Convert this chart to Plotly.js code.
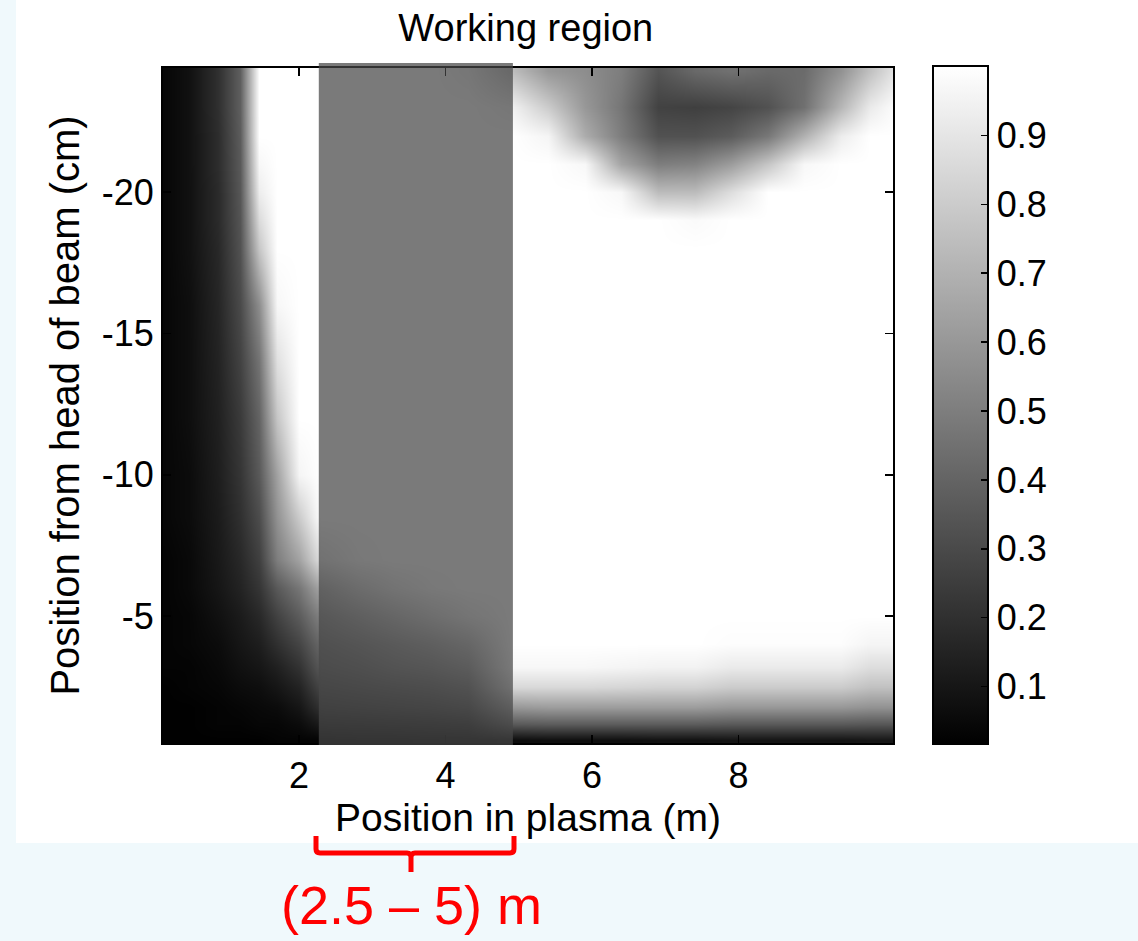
<!DOCTYPE html>
<html><head><meta charset="utf-8">
<script src="https://cdn.plot.ly/plotly-3.0.1.min.js"></script>
<style>html,body{margin:0;padding:0;background:#f0f9fc;overflow:hidden;} #chart{width:1138px;height:941px;}</style>
</head><body><div id="chart"></div>
<script>
// Position in plasma (m) — grid columns
const xPos = [0.15, 0.5, 0.9, 1.2, 1.45, 1.7, 2.0, 2.3, 2.8, 3.3, 3.8, 4.3, 4.9, 5.4, 5.9, 6.4, 6.9, 7.4, 7.9, 8.4, 8.9, 9.4, 9.8, 10.1];
// Position from head of beam (cm) — grid rows
const yPos = [-24.3, -23, -22, -21, -20, -19, -18, -16, -14, -12, -10, -8.5, -7, -6, -5, -4, -3.2, -2.5, -1.8, -1.2, -0.6];

// one column of values per x position
const c0  = [0.04,0.04,0.04,0.04,0.04,0.04,0.04,0.04,0.04,0.04,0.04,0.04,0.03,0.03,0.03,0.03,0.03,0.02,0.02,0.02,0.02];
const c1  = [0.08,0.08,0.08,0.08,0.08,0.08,0.08,0.07,0.07,0.07,0.06,0.06,0.05,0.05,0.04,0.04,0.03,0.03,0.02,0.02,0.02];
const c2  = [0.20,0.20,0.19,0.19,0.18,0.18,0.17,0.16,0.15,0.14,0.13,0.12,0.11,0.10,0.08,0.06,0.05,0.04,0.03,0.03,0.02];
const c3  = [0.38,0.38,0.37,0.36,0.35,0.34,0.33,0.30,0.27,0.24,0.22,0.20,0.17,0.15,0.12,0.10,0.08,0.06,0.04,0.03,0.02];
const c4  = [1.00,1.00,1.00,0.97,0.93,0.86,0.78,0.56,0.46,0.40,0.36,0.31,0.26,0.22,0.17,0.13,0.10,0.07,0.05,0.04,0.02];
const c5  = [1.00,1.00,1.00,1.00,1.00,1.00,1.00,0.97,0.88,0.78,0.64,0.58,0.50,0.36,0.27,0.20,0.14,0.10,0.06,0.04,0.03];
const c6  = [1.00,1.00,1.00,1.00,1.00,1.00,1.00,1.00,1.00,1.00,0.96,0.80,0.64,0.47,0.37,0.28,0.21,0.15,0.10,0.06,0.03];
const c7  = [1.00,1.00,1.00,1.00,1.00,1.00,1.00,1.00,1.00,1.00,1.00,1.00,0.88,0.66,0.52,0.42,0.36,0.29,0.21,0.12,0.03];
const c8  = [1.00,1.00,1.00,1.00,1.00,1.00,1.00,1.00,1.00,1.00,1.00,1.00,0.97,0.80,0.62,0.48,0.40,0.32,0.23,0.13,0.04];
const c9  = [1.00,1.00,1.00,1.00,1.00,1.00,1.00,1.00,1.00,1.00,1.00,1.00,1.00,0.90,0.72,0.55,0.46,0.35,0.25,0.14,0.04];
const c10 = [1.00,1.00,1.00,1.00,1.00,1.00,1.00,1.00,1.00,1.00,1.00,1.00,1.00,0.97,0.82,0.62,0.50,0.38,0.27,0.15,0.05];
const c11 = [0.95,1.00,1.00,1.00,1.00,1.00,1.00,1.00,1.00,1.00,1.00,1.00,1.00,1.00,0.92,0.72,0.58,0.44,0.31,0.17,0.05];
const c12 = [0.75,0.95,1.00,1.00,1.00,1.00,1.00,1.00,1.00,1.00,1.00,1.00,1.00,1.00,1.00,1.00,0.97,0.85,0.60,0.36,0.06];
const c13 = [0.60,0.80,0.96,1.00,1.00,1.00,1.00,1.00,1.00,1.00,1.00,1.00,1.00,1.00,1.00,1.00,0.97,0.85,0.62,0.37,0.07];
const c14 = [0.56,0.60,0.68,0.97,1.00,1.00,1.00,1.00,1.00,1.00,1.00,1.00,1.00,1.00,1.00,1.00,0.97,0.85,0.62,0.37,0.07];
const c15 = [0.50,0.47,0.50,0.65,0.97,1.00,1.00,1.00,1.00,1.00,1.00,1.00,1.00,1.00,1.00,1.00,0.96,0.84,0.62,0.37,0.07];
const c16 = [0.34,0.27,0.33,0.50,0.74,1.00,1.00,1.00,1.00,1.00,1.00,1.00,1.00,1.00,1.00,1.00,0.95,0.83,0.62,0.37,0.08];
const c17 = [0.42,0.26,0.33,0.52,0.74,0.98,1.00,1.00,1.00,1.00,1.00,1.00,1.00,1.00,1.00,1.00,0.95,0.83,0.62,0.37,0.08];
const c18 = [0.45,0.28,0.37,0.62,0.87,1.00,1.00,1.00,1.00,1.00,1.00,1.00,1.00,1.00,1.00,0.99,0.92,0.80,0.60,0.36,0.09];
const c19 = [0.42,0.33,0.48,0.78,1.00,1.00,1.00,1.00,1.00,1.00,1.00,1.00,1.00,1.00,1.00,0.99,0.92,0.80,0.60,0.36,0.09];
const c20 = [0.43,0.45,0.70,0.97,1.00,1.00,1.00,1.00,1.00,1.00,1.00,1.00,1.00,1.00,1.00,0.99,0.92,0.80,0.60,0.36,0.09];
const c21 = [0.58,0.72,0.93,1.00,1.00,1.00,1.00,1.00,1.00,1.00,1.00,1.00,1.00,1.00,1.00,0.99,0.92,0.80,0.60,0.36,0.09];
const c22 = [0.76,0.92,1.00,1.00,1.00,1.00,1.00,1.00,1.00,1.00,1.00,1.00,1.00,1.00,1.00,0.96,0.87,0.76,0.58,0.35,0.10];
const c23 = [0.88,0.98,1.00,1.00,1.00,1.00,1.00,1.00,1.00,1.00,1.00,1.00,1.00,1.00,1.00,0.96,0.87,0.76,0.58,0.35,0.10];
const columns = [c0,c1,c2,c3,c4,c5,c6,c7,c8,c9,c10,c11,c12,c13,c14,c15,c16,c17,c18,c19,c20,c21,c22,c23];

const xTickVals = [2, 4, 6, 8];
const yTickVals = [-20, -15, -10, -5];
const yTickText = ['-20', '-15', '-10', '-5'];
const cbTickVals = [0.1, 0.2, 0.3, 0.4, 0.5, 0.6, 0.7, 0.8, 0.9];
const zRange = [0.016, 1.0];
const xRange = [0.143, 10.109];
const yRange = [-0.51, -24.39];
const workingRegion = [2.27, 4.92];
const regionLabel = '(2.5 \u2013 5) m';

const W = 1138, H = 941;
const M = {l: 163, r: 245, t: 68, b: 198};
const pw = W - M.l - M.r, ph = H - M.t - M.b;
const px = v => (v - M.l) / pw;        // pixel x -> paper x
const py = v => (H - M.b - v) / ph;    // pixel y -> paper y
const FONT = 'Liberation Sans, Arial, Helvetica, sans-serif';

const cbLen = 1.004;
const cbX0 = 933, cbThick = 55;
const cbBottom = M.t + ph * (0.5 + cbLen / 2);
const cbH = cbLen * ph;

const shapes = [];
// white figure background
shapes.push({type: 'rect', xref: 'paper', yref: 'paper', layer: 'below',
  x0: px(16), x1: px(1140), y0: py(0), y1: py(843), fillcolor: '#ffffff', line: {width: 0}});
// working region overlay
shapes.push({type: 'rect', xref: 'x', yref: 'paper', layer: 'above',
  x0: workingRegion[0], x1: workingRegion[1], y0: py(745), y1: py(63),
  fillcolor: 'rgb(71,71,71)', opacity: 0.72, line: {width: 0}});
// left-side ticks of the colorbar
cbTickVals.forEach(v => {
  const yy = cbBottom - (v - zRange[0]) / (zRange[1] - zRange[0]) * cbH;
  shapes.push({type: 'line', xref: 'paper', yref: 'paper', layer: 'above',
    x0: px(cbX0), x1: px(cbX0 + 8), y0: py(yy), y1: py(yy), line: {color: '#000', width: 1.5}});
});
// red bracket under the x axis
const bl = 316, br = 514, bc = 411, bt = 836, bb = 853, tip = 872, rr = 4;
const P = (x, y) => px(x).toFixed(5) + ',' + py(y).toFixed(5);
const bracketPath =
  'M' + P(bl, bt) + ' L' + P(bl, bb - rr) + ' Q' + P(bl, bb) + ' ' + P(bl + rr, bb) +
  ' L' + P(bc - rr, bb) + ' Q' + P(bc, bb) + ' ' + P(bc, bb + rr) + ' L' + P(bc, tip) +
  ' M' + P(bc, bb + rr) + ' Q' + P(bc, bb) + ' ' + P(bc + rr, bb) +
  ' L' + P(br - rr, bb) + ' Q' + P(br, bb) + ' ' + P(br, bb - rr) + ' L' + P(br, bt);
shapes.push({type: 'path', xref: 'paper', yref: 'paper', layer: 'above', path: bracketPath,
  line: {color: '#ff0000', width: 5}});

const trace = {
  type: 'heatmap',
  x: xPos, y: yPos, z: columns, transpose: true,
  zmin: zRange[0], zmax: zRange[1],
  zsmooth: 'best',
  colorscale: [[0, 'rgb(0,0,0)'], [1, 'rgb(255,255,255)']],
  hoverinfo: 'skip',
  colorbar: {
    x: px(cbX0), xanchor: 'left', xref: 'paper',
    y: 0.5, yanchor: 'middle', len: cbLen, lenmode: 'fraction',
    thickness: cbThick, thicknessmode: 'pixels',
    xpad: 0, ypad: 0,
    outlinewidth: 2, outlinecolor: '#000',
    tickmode: 'array', tickvals: cbTickVals, ticktext: cbTickVals.map(v => v.toFixed(1)),
    ticks: 'inside', ticklen: 8, tickwidth: 1.5, tickcolor: '#000',
    tickfont: {family: FONT, size: 36, color: '#000'}
  }
};

const layout = {
  width: W, height: H,
  margin: M,
  paper_bgcolor: '#f0f9fc',
  plot_bgcolor: '#ffffff',
  showlegend: false,
  title: {text: 'Working region', x: 0.497, xref: 'paper', xanchor: 'center',
    y: 1 - 28 / H, yref: 'container', yanchor: 'middle',
    font: {family: FONT, size: 38, color: '#000'}},
  xaxis: {
    range: xRange, tickmode: 'array', tickvals: xTickVals,
    ticks: 'inside', ticklen: 8, tickwidth: 1.5, tickcolor: '#000',
    showline: true, linecolor: '#000', linewidth: 2, mirror: 'ticks',
    showgrid: false, zeroline: false,
    tickfont: {family: FONT, size: 36, color: '#000'},
    title: {text: 'Position in plasma (m)', standoff: 8, font: {family: FONT, size: 39, color: '#000'}}
  },
  yaxis: {
    range: yRange, tickmode: 'array', tickvals: yTickVals, ticktext: yTickText,
    ticks: 'inside', ticklen: 8, tickwidth: 1.5, tickcolor: '#000',
    showline: true, linecolor: '#000', linewidth: 2, mirror: 'ticks',
    showgrid: false, zeroline: false,
    tickfont: {family: FONT, size: 36, color: '#000'},
    title: {text: 'Position from head of beam (cm)', standoff: 10, font: {family: FONT, size: 40, color: '#000'}}
  },
  shapes: shapes,
  annotations: [{
    text: regionLabel, xref: 'paper', yref: 'paper', x: px(bc), y: py(905),
    xanchor: 'center', yanchor: 'middle', showarrow: false,
    font: {family: FONT, size: 54, color: '#ff0000'}
  }]
};

Plotly.newPlot('chart', [trace], layout, {staticPlot: true, displayModeBar: false});
</script></body></html>
